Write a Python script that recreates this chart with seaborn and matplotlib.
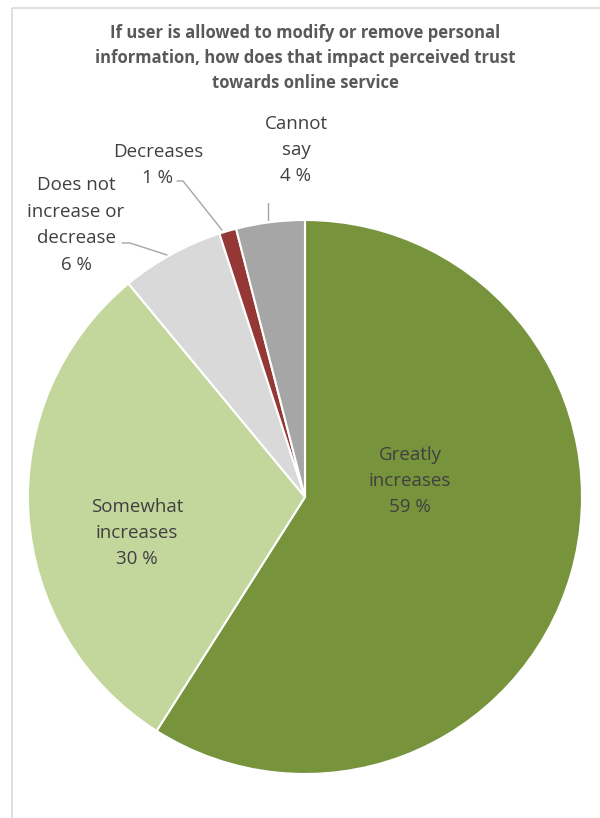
import matplotlib
matplotlib.use("Agg")
import matplotlib.pyplot as plt
import seaborn as sns
from matplotlib.patches import Rectangle

sns.set_theme(style="white")
plt.rcParams['font.family'] = ['Open Sans', 'DejaVu Sans']

categories = ["Greatly increases", "Somewhat increases", "Does not increase or decrease",
              "Decreases", "Cannot say"]
values = [59, 30, 6, 1, 4]
label_texts = ["Greatly\nincreases\n59 %", "Somewhat\nincreases\n30 %",
               "Does not\nincrease or\ndecrease\n6 %", "Decreases\n1 %", "Cannot\nsay\n4 %"]
colors = ["#77933C", "#C3D69B", "#D9D9D9", "#953735", "#A6A6A6"]
title = "If user is allowed to modify or remove personal\ninformation, how does that impact perceived trust\ntowards online service"

W, H = 600, 818
fig = plt.figure(figsize=(W / 100, H / 100), dpi=100)
ax = fig.add_axes([0, 0, 1, 1])

# chart border
ax.add_patch(Rectangle((11.5, 7.5), 700, 900, fill=False, edgecolor="#D9D9D9", lw=1.2))

cx, cy, r = 305, 497, 277
wedges, _ = ax.pie(values, colors=colors, startangle=-90, counterclock=True,
                   center=(cx, cy), radius=r, frame=True,
                   wedgeprops=dict(edgecolor="white", linewidth=1.5))
ax.set_xlim(0, W)
ax.set_ylim(H, 0)
ax.set_aspect("equal")
ax.axis("off")

ax.text(305, 58, title, ha="center", va="center", fontsize=12, fontweight="bold",
        color="#595959", linespacing=1.5)

txt = dict(ha="center", va="center", fontsize=13.5, color="#404040", linespacing=1.6)
ax.text(410, 481, label_texts[0], **txt)
ax.text(137, 533, label_texts[1], **txt)
ax.text(76, 225, label_texts[2], **txt)
ax.text(158, 165, label_texts[3], **txt)
ax.text(296, 150, label_texts[4], **txt)

lc = dict(color="#A6A6A6", lw=1)
ax.plot([122, 130, 167], [243, 243, 255], **lc)
ax.plot([177, 183, 222], [181, 181, 230], **lc)
ax.plot([268, 268], [203, 220], **lc)

fig.savefig("out.png", dpi=100, facecolor="white")
